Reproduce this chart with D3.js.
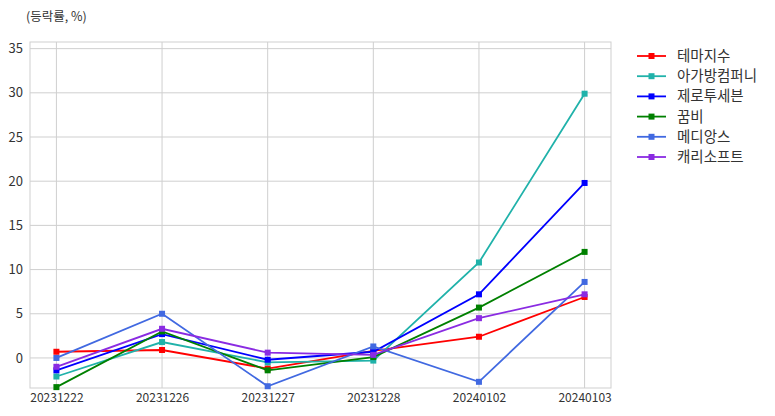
<!DOCTYPE html>
<html><head><meta charset="utf-8">
<script src="https://cdn.jsdelivr.net/npm/d3@7"></script>
<style>body{margin:0;background:#fff;} text{font-family:"Noto Sans CJK KR","Noto Sans",sans-serif;}</style>
</head><body>
<svg id="c" width="775" height="416"></svg>
<script>
const categories = ["20231222","20231226","20231227","20231228","20240102","20240103"];
const seriesNames = ["테마지수","아가방컴퍼니","제로투세븐","꿈비","메디앙스","캐리소프트"];
const seriesColors = ["#ff0000","#20b2aa","#0000ff","#008000","#4169e1","#8a2be2"];
const s_theme = [0.7, 0.9, -1.2, 0.8, 2.4, 6.9];
const s_agabang = [-2.1, 1.8, -0.5, -0.3, 10.8, 29.9];
const s_zero7 = [-1.4, 2.7, -0.2, 0.7, 7.2, 19.8];
const s_kkumbi = [-3.3, 3.0, -1.4, 0.1, 5.7, 12.0];
const s_mediangs = [0.0, 5.0, -3.2, 1.3, -2.7, 8.6];
const s_carrysoft = [-1.0, 3.3, 0.6, 0.35, 4.5, 7.2];
const yTicks = [0,5,10,15,20,25,30,35];
const yLabel = "(등락률, %)";
const seriesValues = [s_theme, s_agabang, s_zero7, s_kkumbi, s_mediangs, s_carrysoft];

const svg = d3.select("#c");
const L=30, R=611, T=42, B=388;
const x = d3.scalePoint().domain(categories).range([L,R]).padding(0.25);
const y = d3.scaleLinear().domain([-3.4, 35.75]).range([B,T]);

// grid
const g = svg.append("g");
g.selectAll("line.h").data(yTicks).join("line")
  .attr("x1",L).attr("x2",R).attr("y1",d=>y(d)).attr("y2",d=>y(d))
  .attr("stroke","#cfcfcf").attr("stroke-width",1);
g.selectAll("line.v").data(categories).join("line")
  .attr("x1",d=>x(d)).attr("x2",d=>x(d)).attr("y1",T).attr("y2",B)
  .attr("stroke","#cfcfcf").attr("stroke-width",1);
svg.append("rect").attr("x",L).attr("y",T).attr("width",R-L).attr("height",B-T)
  .attr("fill","none").attr("stroke","#cfcfcf").attr("stroke-width",1);

// axes
const ya = svg.append("g").attr("transform",`translate(${L},0)`)
  .call(d3.axisLeft(y).tickValues(yTicks).tickSize(0).tickPadding(7));
ya.select(".domain").remove();
ya.selectAll("text").attr("font-size",13).attr("fill","#333");
const xa = svg.append("g").attr("transform",`translate(0,${B})`)
  .call(d3.axisBottom(x).tickSize(0).tickPadding(5));
xa.select(".domain").remove();
xa.selectAll("text").attr("font-size",12).attr("fill","#333");

svg.append("text").attr("x",26).attr("y",21).attr("font-size",12.5).attr("fill","#333").text(yLabel);

// lines
const line = d3.line().x((d,i)=>x(categories[i])).y(d=>y(d));
seriesValues.forEach((vals,k)=>{
  svg.append("path").datum(vals).attr("d",line).attr("fill","none")
    .attr("stroke",seriesColors[k]).attr("stroke-width",1.8);
  svg.selectAll(null).data(vals).join("rect")
    .attr("x",(d,i)=>x(categories[i])-3).attr("y",d=>y(d)-3)
    .attr("width",6).attr("height",6).attr("fill",seriesColors[k]);
});

// legend
const lg = svg.append("g");
seriesNames.forEach((n,k)=>{
  const yy = 56 + k*20.2;
  lg.append("line").attr("x1",637).attr("x2",666).attr("y1",yy).attr("y2",yy)
    .attr("stroke",seriesColors[k]).attr("stroke-width",1.8);
  lg.append("rect").attr("x",648.5).attr("y",yy-3).attr("width",6).attr("height",6).attr("fill",seriesColors[k]);
  lg.append("text").attr("x",677).attr("y",yy).attr("dy","0.35em").attr("font-size",14.5).attr("fill","#333").text(n);
});
</script>
</body></html>
